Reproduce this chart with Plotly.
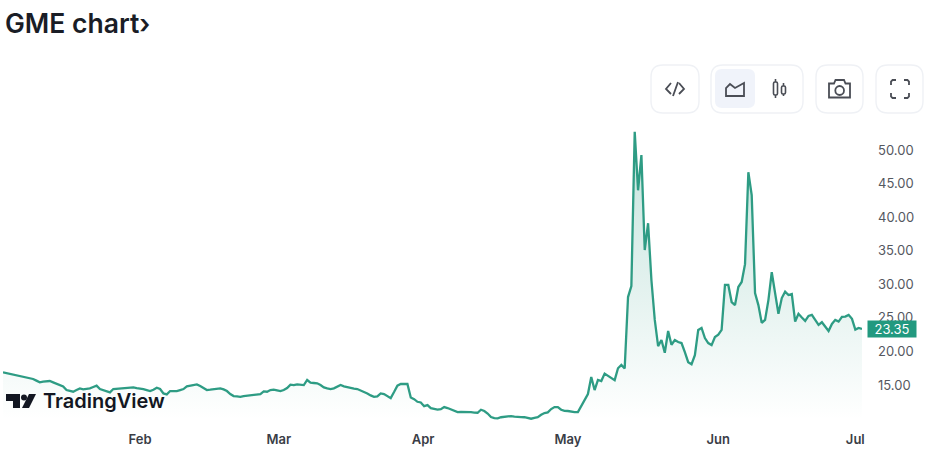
"""GME price chart in the TradingView widget style."""

from __future__ import annotations

import pandas as pd
import plotly.graph_objects as go

# half-day closes, weekdays only, from 3 Jan 2024
prices = [
    16.9, 16.8, 16.65, 16.6, 16.5, 16.4, 16.3, 16.2, 16.05, 15.9,
    15.65, 15.4, 15.5, 15.6, 15.6, 15.4, 15.2, 15.0, 14.8, 14.25,
    14.1, 14.0, 14.25, 14.5, 14.35, 14.4, 14.5, 14.7, 14.9, 14.4,
    14.25, 14.15, 13.9, 14.4, 14.45, 14.5, 14.5, 14.55, 14.6, 14.65,
    14.55, 14.5, 14.4, 14.25, 14.1, 14.3, 14.6, 14.4, 13.75, 13.6,
    14.1, 14.1, 14.1, 14.25, 14.4, 14.8, 14.9, 14.9, 15.1, 14.85,
    14.5, 14.25, 14.3, 14.35, 14.5, 14.5, 14.35, 14.1, 13.65, 13.35,
    13.3, 13.25, 13.35, 13.4, 13.5, 13.55, 13.6, 13.65, 14.05, 14.0,
    14.25, 14.3, 14.2, 14.1, 14.25, 14.55, 15.05, 15.0, 15.1, 15.05,
    15.0, 15.75, 15.35, 15.3, 15.25, 15.0, 14.65, 14.5, 14.4, 14.5,
    14.7, 15.0, 14.8, 14.65, 14.55, 14.45, 14.4, 14.2, 13.95, 13.75,
    13.45, 13.25, 13.3, 13.75, 13.65, 13.35, 13.05, 13.95, 14.9, 15.15,
    15.2, 15.15, 13.15, 12.9, 12.5, 12.4, 11.85, 12.0, 11.55, 11.4,
    11.35, 11.4, 11.72, 11.57, 11.35, 11.1, 10.97, 11.0, 11.02, 10.93,
    10.95, 10.9, 10.87, 11.32, 11.13, 10.75, 10.23, 10.08, 10.04, 10.2,
    10.28, 10.33, 10.38, 10.28, 10.3, 10.23, 10.2, 10.04, 9.98, 10.12,
    10.2, 10.56, 10.83, 10.92, 11.42, 11.72, 11.72, 11.32, 11.15, 11.13,
    11.02, 10.95, 10.97, 11.87, 12.7, 13.66, 16.2, 14.25, 15.75, 15.6,
    16.7, 16.4, 16.0, 15.73, 17.5, 18.0, 17.45, 28.1, 29.75, 52.7,
    44.0, 49.25, 35.1, 39.1, 30.6, 24.7, 20.8, 21.7, 19.8, 23.05,
    21.0, 21.7, 21.4, 21.25, 19.9, 18.4, 18.1, 19.45, 23.2, 23.5,
    22.0, 21.25, 20.95, 22.15, 22.5, 23.2, 29.9, 29.9, 27.35, 26.9,
    29.6, 30.35, 33.0, 46.7, 43.3, 28.7, 26.9, 24.25, 24.7, 27.65,
    31.8, 28.4, 25.6, 27.95, 28.9, 28.4, 28.55, 24.45, 25.6, 25.05,
    24.55, 25.3, 25.45, 24.7, 23.95, 24.35, 23.65, 23.05, 24.1, 24.7,
    24.45, 25.15, 25.2, 25.45, 24.85, 23.25, 23.5, 23.35,
]
# the widget's month labels sit on its own time grid, hence the odd hours
month_ticks = ["2024-02-01", "2024-02-29 18:00", "2024-04-01 08:00", "2024-05-01", "2024-05-31 12:00", "2024-07-01"]
month_labels = ["Feb", "Mar", "Apr", "May", "Jun", "Jul"]
price_ticks = [15, 20, 25, 30, 35, 40, 45, 50]
last_price = prices[-1]

LINE = "#2e9c84"
BORDER = "#eff1f5"
ICON = "#4a4d55"
LEFT, RIGHT, TOP, BOTTOM = 3, 862, 120, 420

half_days = pd.date_range("2024-01-03 12:00", periods=400, freq="12h")
dates = half_days[half_days.weekday < 5][: len(prices)]


def px(x: float) -> float:
    return (x - LEFT) / (RIGHT - LEFT)


def py(y: float) -> float:
    return (BOTTOM - y) / (BOTTOM - TOP)


def path(points: list[tuple[float, float]], close: bool = False) -> str:
    """SVG path through points given in page pixels."""
    body = " L".join(f"{px(x):.5f},{py(y):.5f}" for x, y in points)
    return f"M{body}" + (" Z" if close else "")


def rounded(x0: float, y0: float, x1: float, y1: float, r: float) -> str:
    """SVG rounded rectangle given in page pixels."""
    def c(ctrl_x, ctrl_y, end_x, end_y):
        return f" Q{px(ctrl_x):.5f},{py(ctrl_y):.5f} {px(end_x):.5f},{py(end_y):.5f}"

    return (
        f"M{px(x0 + r):.5f},{py(y0):.5f} L{px(x1 - r):.5f},{py(y0):.5f}" + c(x1, y0, x1, y0 + r)
        + f" L{px(x1):.5f},{py(y1 - r):.5f}" + c(x1, y1, x1 - r, y1)
        + f" L{px(x0 + r):.5f},{py(y1):.5f}" + c(x0, y1, x0, y1 - r)
        + f" L{px(x0):.5f},{py(y0 + r):.5f}" + c(x0, y0, x0 + r, y0) + " Z"
    )


def shape(d: str, fill: str = "rgba(0,0,0,0)", color: str = ICON, width: float = 1.8) -> dict:
    return dict(type="path", path=d, xref="paper", yref="paper", fillcolor=fill,
                line=dict(color=color, width=width), layer="above")


def toolbar() -> list[dict]:
    shapes = [
        shape(rounded(651, 65, 699, 113, 12), "#ffffff", BORDER, 1.4),
        shape(rounded(711, 65, 803, 113, 12), "#ffffff", BORDER, 1.4),
        shape(rounded(816, 65, 863, 113, 12), "#ffffff", BORDER, 1.4),
        shape(rounded(876, 65, 923, 113, 12), "#ffffff", BORDER, 1.4),
        shape(rounded(715, 69, 755, 108, 7), "#f0f3fa", "#f0f3fa", 0),
        # code icon
        shape(path([(671, 83), (666, 89), (671, 94)])),
        shape(path([(678, 82), (673, 96)])),
        shape(path([(679, 83), (684, 89), (679, 94)])),
        # area icon
        shape(path([(726, 96), (726, 88), (730, 84), (735, 88), (744, 83), (744, 96)], True)),
        # candle icon
        shape(path([(775.5, 79), (775.5, 98)]), width=1.6),
        shape(rounded(773.5, 82, 777.5, 95, 1.5), "#ffffff", ICON, 1.6),
        shape(path([(783.5, 83), (783.5, 96)]), width=1.6),
        shape(rounded(781.5, 86, 785.5, 94, 1.5), "#ffffff", ICON, 1.6),
        # camera icon
        shape(path([(829, 83.5), (834, 83.5), (835.5, 80), (844, 80), (845.5, 83.5), (850, 83.5),
                    (850, 97.5), (829, 97.5)], True)),
        dict(type="circle", xref="paper", yref="paper", x0=px(835.3), x1=px(844), y0=py(95), y1=py(86),
             line=dict(color=ICON, width=1.8), layer="above"),
    ]
    # fullscreen corners
    for x0, y0, xs, ys in [(891, 80, 1, 1), (909, 80, -1, 1), (891, 98, 1, -1), (909, 98, -1, -1)]:
        shapes.append(shape(path([(x0, y0 + 5 * ys), (x0, y0 + 1.5 * ys), (x0 + 1.5 * xs, y0), (x0 + 5 * xs, y0)])))
    # TradingView mark
    shapes += [
        shape(path([(6, 394), (20, 394), (20, 408), (13, 408), (13, 401), (6, 401)], True), "#131722", "#131722", 0),
        dict(type="circle", xref="paper", yref="paper", x0=px(21), x1=px(27), y0=py(400.5), y1=py(394.5),
             fillcolor="#131722", line=dict(width=0), layer="above"),
        shape(path([(29, 394), (36, 394), (29, 408), (22, 408)], True), "#131722", "#131722", 0),
    ]
    return shapes


fig = go.Figure()
fig.add_trace(
    go.Scatter(
        x=dates,
        y=prices,
        mode="lines",
        line=dict(color=LINE, width=2.3),
        fill="tozeroy",
        fillgradient=dict(
            type="vertical",
            start=9.8,
            stop=52.7,
            colorscale=[[0, "rgba(46,156,132,0.0)"], [0.45, "rgba(46,156,132,0.13)"], [1, "rgba(46,156,132,0.28)"]],
        ),
        hoverinfo="skip",
    )
)
fig.update_layout(
    width=926,
    height=459,
    autosize=False,
    margin=dict(l=LEFT, r=926 - RIGHT, t=TOP, b=459 - BOTTOM),
    paper_bgcolor="#ffffff",
    plot_bgcolor="#ffffff",
    showlegend=False,
    font=dict(family="Inter", color="#4a4d55"),
    title=dict(
        text="GME chart›",
        x=5 / 926,
        xanchor="left",
        y=1 - 24 / 459,
        yanchor="middle",
        font=dict(family="Inter", size=26.5, weight=600, color="#1a1d26"),
    ),
    shapes=toolbar(),
    annotations=[
        dict(
            text="TradingView",
            xref="paper", yref="paper", x=px(41), y=py(401),
            xanchor="left", yanchor="middle", showarrow=False,
            font=dict(family="Inter", size=20, weight=600, color="#131722"),
        ),
        dict(
            text=f"{last_price:.2f}",
            xref="paper", yref="y", x=px(892), y=last_price,
            xanchor="center", yanchor="middle", showarrow=False,
            width=46, height=14, bgcolor="#22997f", borderpad=1,
            font=dict(family="Inter", size=13, color="#ffffff"),
        ),
    ],
    xaxis=dict(
        type="date",
        range=[dates[0], dates[-1]],
        rangebreaks=[dict(bounds=["sat", "mon"])],
        tickmode="array",
        tickvals=month_ticks,
        ticktext=month_labels,
        tickfont=dict(family="Inter", size=13, weight=600, color="#3a3d46"),
        showgrid=False,
        zeroline=False,
        showline=False,
        ticks="",
        ticklabelstandoff=10,
    ),
    yaxis=dict(
        side="right",
        range=[9.79, 54.47],
        tickmode="array",
        tickvals=price_ticks,
        ticktext=[f"{v:.2f}" for v in price_ticks],
        tickfont=dict(family="Inter", size=13, color="#55585f"),
        showgrid=False,
        zeroline=False,
        showline=False,
        ticks="",
        ticklabelstandoff=15,
    ),
)
# the page's default body margin would push the figure off its 926px window
fig.write_html(
    "out.html",
    config={"displayModeBar": False},
    post_script="document.body.style.margin = '0';",
)
